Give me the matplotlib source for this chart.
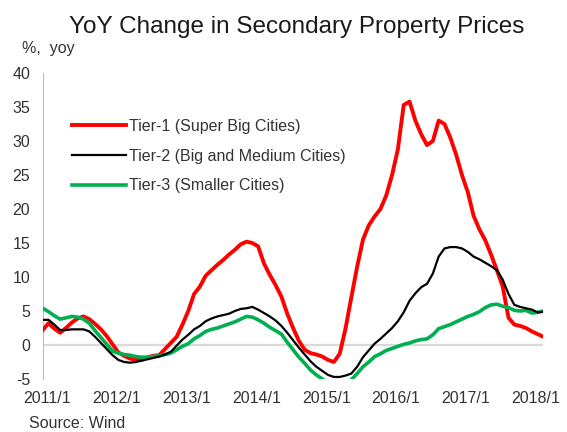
import matplotlib
matplotlib.use("Agg")
import matplotlib.pyplot as plt
import matplotlib.transforms as mtransforms
import numpy as np

plt.rcParams['font.family'] = ['Liberation Sans', 'DejaVu Sans']
plt.rcParams['axes.unicode_minus'] = False

# monthly yoy changes, 2011/1 .. 2018/3
tier1 = [2.2, 3.2, 2.4, 1.8, 2.5, 3.3, 3.9, 4.2, 3.8, 3.1, 2.3, 1.3,
         0.1, -1.1, -1.6, -2.0, -2.2, -2.2, -1.8, -1.6, -1.5, -0.6, 0.3, 1.2,
         3.0, 5.0, 7.5, 8.6, 10.2, 11.0, 11.8, 12.5, 13.3, 14.0, 14.8, 15.2,
         15.0, 14.5, 12.0, 10.3, 8.8, 7.1, 4.6, 2.5, 0.6, -0.7, -1.2, -1.4,
         -1.7, -2.2, -2.5, -1.3, 2.4, 7.0, 11.5, 15.5, 17.6, 18.9, 20.0, 22.0,
         25.0, 28.8, 35.3, 35.8, 33.0, 31.0, 29.4, 30.0, 33.0, 32.5, 30.5, 28.0,
         25.0, 22.5, 19.0, 17.0, 15.4, 13.3, 11.0, 8.6, 4.0, 3.0, 2.8, 2.5,
         2.0, 1.6, 1.2]
tier2 = [3.7, 3.7, 3.0, 2.2, 2.2, 2.3, 2.3, 2.3, 2.0, 1.2, 0.3, -0.6,
         -1.5, -2.2, -2.5, -2.6, -2.5, -2.3, -2.1, -1.9, -1.7, -1.4, -1.0, -0.1,
         0.8, 1.5, 2.3, 2.8, 3.5, 3.9, 4.2, 4.4, 4.6, 5.0, 5.3, 5.4,
         5.6, 5.2, 4.7, 4.2, 3.6, 2.8, 1.8, 0.7, -0.4, -1.4, -2.4, -3.2,
         -3.8, -4.4, -4.7, -4.7, -4.5, -4.2, -3.2, -1.8, -0.8, 0.2, 0.9, 1.7,
         2.5, 3.5, 4.8, 6.5, 7.6, 8.5, 9.0, 10.5, 13.0, 14.2, 14.4, 14.4,
         14.2, 13.7, 13.0, 12.6, 12.1, 11.6, 11.0, 9.6, 7.5, 5.9, 5.6, 5.4,
         5.2, 4.8, 4.9]
tier3 = [5.4, 4.9, 4.3, 3.8, 4.0, 4.2, 4.1, 3.8, 3.2, 2.1, 1.1, 0.1,
         -0.9, -1.2, -1.4, -1.5, -1.7, -1.8, -1.8, -1.7, -1.6, -1.4, -1.2, -0.7,
         -0.2, 0.2, 0.9, 1.4, 2.0, 2.3, 2.5, 2.8, 3.1, 3.4, 3.8, 4.2,
         4.1, 3.7, 3.2, 2.6, 2.1, 1.6, 0.4, -0.7, -1.8, -2.7, -3.7, -4.4,
         -5.0, -5.6, -6.0, -6.1, -5.8, -5.1, -4.2, -3.2, -2.5, -1.7, -1.3, -0.8,
         -0.5, -0.2, 0.1, 0.3, 0.6, 0.8, 0.9, 1.5, 2.4, 2.7, 3.0, 3.4,
         3.8, 4.2, 4.5, 4.9, 5.5, 5.9, 6.0, 5.7, 5.5, 5.1, 5.0, 5.1,
         4.7, 4.8, 5.0]
year_labels = ['2011/1', '2012/1', '2013/1', '2014/1', '2015/1', '2016/1', '2017/1', '2018/1']
yticks = [-5, 0, 5, 10, 15, 20, 25, 30, 35, 40]

months = np.arange(len(tier1))

fig = plt.figure(figsize=(5.67, 4.32), dpi=100)
ax = fig.add_axes([0.0753, 0.1227, 0.8832, 0.7083])

ax.axhline(0, color='#d9d9d9', lw=1.6, zorder=1)
ax.plot(months, tier1, color='#ff0000', lw=2.8, label='Tier-1 (Super Big Cities)', zorder=3)
ax.plot(months, tier2, color='#000000', lw=1.6, label='Tier-2 (Big and Medium Cities)', zorder=4)
ax.plot(months, tier3, color='#00b050', lw=2.6, label='Tier-3 (Smaller Cities)', zorder=3)

ax.set_xlim(0, len(tier1) - 1)
ax.set_ylim(-5, 40)
ax.set_yticks(yticks)
ax.set_xticks(np.arange(len(year_labels)) * 12)
ax.set_xticklabels(year_labels)

for s in ['top', 'right', 'bottom']:
    ax.spines[s].set_visible(False)
ax.spines['left'].set_color('#bfbfbf')
ax.spines['left'].set_linewidth(0.8)
ax.tick_params(length=0, labelsize=11.5, colors='#333333')
ax.tick_params(axis='y', pad=9)
ax.tick_params(axis='x', pad=9)

# shift x labels a bit right like the original
offset = mtransforms.ScaledTranslation(4 / 100, 0, fig.dpi_scale_trans)
for lab in ax.get_xticklabels():
    lab.set_transform(lab.get_transform() + offset)

leg = ax.legend(loc='upper left', bbox_to_anchor=(72 / 567, 1 - 119 / 432),
                bbox_transform=fig.transFigure, frameon=False, fontsize=11.5,
                handlelength=3.4, handletextpad=0.15, labelspacing=0.92,
                borderpad=0, borderaxespad=0)
for t in leg.get_texts():
    t.set_color('#333333')

fig.text(0.524, 1 - 33.5 / 432, 'YoY Change in Secondary Property Prices',
         ha='center', va='baseline', fontsize=17.5, color='#1a1a1a')
fig.text(22 / 567, 1 - 48 / 432, '%,  yoy', ha='left', va='center',
         fontsize=11.5, color='#333333')
fig.text(29 / 567, 1 - 424 / 432, 'Source: Wind', ha='left', va='center',
         fontsize=11.5, color='#333333')

fig.savefig('out.png', dpi=100)
